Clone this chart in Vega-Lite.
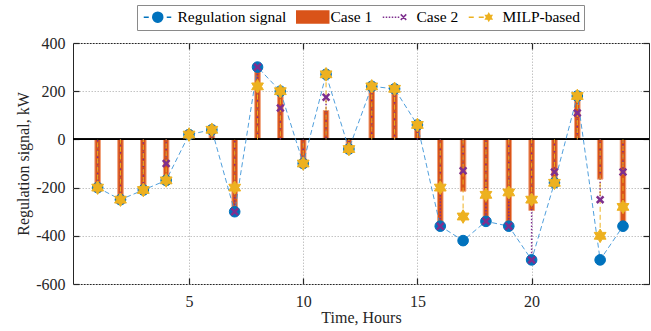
{
  "$schema": "https://vega.github.io/schema/vega-lite/v6.json",
  "width": 576,
  "height": 241,
  "autosize": {"type": "none"},
  "padding": {"left": 73, "top": 43, "right": 2, "bottom": 47},
  "background": "white",
  "config": {
    "font": "Liberation Serif",
    "view": {"stroke": "#262626", "strokeWidth": 1},
    "axis": {
      "labelFont": "Liberation Serif",
      "labelFontSize": 16,
      "labelColor": "#262626",
      "titleFont": "Liberation Serif",
      "titleFontSize": 16,
      "titleFontWeight": "normal",
      "titleColor": "#262626",
      "domain": false,
      "tickColor": "#262626",
      "tickSize": -6,
      "tickWidth": 1.2,
      "gridColor": "#c4c4c4",
      "gridDash": [1.5, 1.5],
      "gridWidth": 1
    },
    "legend": {
      "title": null,
      "orient": "none",
      "legendX": 64,
      "legendY": -38,
      "direction": "horizontal",
      "symbolSize": 100,
      "symbolStrokeWidth": 1.5,
      "symbolOpacity": 1,
      "labelFont": "Liberation Serif",
      "labelFontSize": 15.5,
      "labelColor": "#000000",
      "labelOffset": 21,
      "columnPadding": 6,
      "padding": 4,
      "strokeColor": "#8a8a8a",
      "fillColor": "#ffffff"
    }
  },
  "data": {
    "values": [
      {"h": 1, "Regulation signal": -200, "Case 1": -200, "Case 2": -200, "MILP-based": -200},
      {"h": 2, "Regulation signal": -250, "Case 1": -250, "Case 2": -250, "MILP-based": -250},
      {"h": 3, "Regulation signal": -210, "Case 1": -210, "Case 2": -210, "MILP-based": -210},
      {"h": 4, "Regulation signal": -170, "Case 1": -170, "Case 2": -100, "MILP-based": -170},
      {"h": 5, "Regulation signal": 20, "Case 1": 20, "Case 2": 20, "MILP-based": 20},
      {"h": 6, "Regulation signal": 40, "Case 1": 40, "Case 2": 40, "MILP-based": 40},
      {"h": 7, "Regulation signal": -300, "Case 1": -300, "Case 2": -300, "MILP-based": -200},
      {"h": 8, "Regulation signal": 300, "Case 1": 300, "Case 2": 300, "MILP-based": 220},
      {"h": 9, "Regulation signal": 200, "Case 1": 200, "Case 2": 130, "MILP-based": 200},
      {"h": 10, "Regulation signal": -100, "Case 1": -100, "Case 2": -100, "MILP-based": -100},
      {"h": 11, "Regulation signal": 270, "Case 1": 120, "Case 2": 175, "MILP-based": 270},
      {"h": 12, "Regulation signal": -40, "Case 1": -40, "Case 2": -40, "MILP-based": -40},
      {"h": 13, "Regulation signal": 220, "Case 1": 220, "Case 2": 220, "MILP-based": 220},
      {"h": 14, "Regulation signal": 210, "Case 1": 210, "Case 2": 210, "MILP-based": 210},
      {"h": 15, "Regulation signal": 60, "Case 1": 60, "Case 2": 60, "MILP-based": 60},
      {"h": 16, "Regulation signal": -360, "Case 1": -360, "Case 2": -360, "MILP-based": -200},
      {"h": 17, "Regulation signal": -420, "Case 1": -215, "Case 2": -130, "MILP-based": -320},
      {"h": 18, "Regulation signal": -340, "Case 1": -340, "Case 2": -340, "MILP-based": -230},
      {"h": 19, "Regulation signal": -360, "Case 1": -355, "Case 2": -360, "MILP-based": -220},
      {"h": 20, "Regulation signal": -500, "Case 1": -295, "Case 2": -500, "MILP-based": -250},
      {"h": 21, "Regulation signal": -180, "Case 1": -180, "Case 2": -135, "MILP-based": -180},
      {"h": 22, "Regulation signal": 180, "Case 1": 180, "Case 2": 110, "MILP-based": 180},
      {"h": 23, "Regulation signal": -500, "Case 1": -165, "Case 2": -250, "MILP-based": -400},
      {"h": 24, "Regulation signal": -360, "Case 1": -360, "Case 2": -135, "MILP-based": -280}
    ]
  },
  "resolve": {"axis": {"x": "independent", "y": "independent"}},
  "layer": [
    {
      "mark": {"type": "bar", "width": 5.5, "fill": "#D95319", "stroke": "#F0A07A", "strokeWidth": 1},
      "encoding": {
        "x": {
          "field": "h", "type": "quantitative",
          "scale": {"domain": [0.14, 24.92], "nice": false, "zero": false},
          "axis": {"values": [5, 10, 15, 20], "title": "Time, Hours", "grid": true, "labelPadding": 15, "titlePadding": 0}
        },
        "y": {
          "field": "Case 1", "type": "quantitative",
          "scale": {"domain": [-600, 400], "nice": false},
          "axis": {"values": [-600, -400, -200, 0, 200, 400], "title": "Regulation signal, kW", "grid": true, "labelPadding": 14, "titlePadding": 4, "labelExpr": "replace(datum.label, '−', '-')"}
        },
        "y2": {"datum": 0}
      }
    },
    {
      "mark": {"type": "rule", "color": "#000000", "strokeWidth": 1},
      "encoding": {"y": {"datum": 0, "type": "quantitative", "axis": null}}
    },
    {
      "mark": {"type": "line", "color": "#3d95d8", "strokeWidth": 1, "strokeDash": [5, 3], "opacity": 0.9},
      "encoding": {
        "x": {"field": "h", "type": "quantitative", "axis": {"orient": "top", "values": [5, 10, 15, 20], "labels": false, "title": null, "grid": false}},
        "y": {"field": "Regulation signal", "type": "quantitative", "axis": {"orient": "right", "values": [-600, -400, -200, 0, 200, 400], "labels": false, "title": null, "grid": false}}
      }
    },
    {
      "mark": {"type": "rule", "color": "#7E2F8E", "strokeWidth": 1.5, "strokeDash": [1.5, 1.8]},
      "encoding": {
        "x": {"field": "h", "type": "quantitative", "axis": null},
        "y": {"field": "Case 2", "type": "quantitative", "axis": null},
        "y2": {"datum": 0}
      }
    },
    {
      "mark": {"type": "rule", "color": "#EDB120", "strokeWidth": 1, "strokeDash": [5, 3]},
      "encoding": {
        "x": {"field": "h", "type": "quantitative", "axis": null},
        "y": {"field": "MILP-based", "type": "quantitative", "axis": null},
        "y2": {"datum": 0}
      }
    },
    {
      "mark": {"type": "point", "shape": "circle", "size": 113, "filled": true, "fill": "#0072BD", "stroke": "#0072BD", "strokeWidth": 1, "opacity": 1},
      "encoding": {
        "x": {"field": "h", "type": "quantitative", "axis": null},
        "y": {"field": "Regulation signal", "type": "quantitative", "axis": null}
      }
    },
    {
      "mark": {"type": "point", "shape": "M-1,-1L1,1M-1,1L1,-1", "size": 45, "filled": false, "stroke": "#7E2F8E", "strokeWidth": 2.5, "opacity": 1},
      "encoding": {
        "x": {"field": "h", "type": "quantitative", "axis": null},
        "y": {"field": "Case 2", "type": "quantitative", "axis": null}
      }
    },
    {
      "mark": {"type": "point", "shape": "M0,-1L0.289,-0.5L0.866,-0.5L0.577,0L0.866,0.5L0.289,0.5L0,1L-0.289,0.5L-0.866,0.5L-0.577,0L-0.866,-0.5L-0.289,-0.5Z", "size": 185, "filled": true, "fill": "#EDB120", "stroke": "#EDB120", "strokeWidth": 1, "opacity": 1},
      "encoding": {
        "x": {"field": "h", "type": "quantitative", "axis": null},
        "y": {"field": "MILP-based", "type": "quantitative", "axis": null}
      }
    },
    {
      "transform": [{"fold": ["Regulation signal", "Case 1", "Case 2", "MILP-based"], "as": ["series", "value"]}],
      "mark": {"type": "point", "filled": true, "opacity": 0},
      "encoding": {
        "x": {"field": "h", "type": "quantitative", "axis": null},
        "y": {"field": "value", "type": "quantitative", "axis": null},
        "fill": {
          "field": "series", "type": "nominal",
          "scale": {"domain": ["Regulation signal", "Case 1", "Case 2", "MILP-based"], "range": ["#0072BD", "#D95319", "#7E2F8E", "#EDB120"]},
          "legend": {"title": null}
        },
        "stroke": {
          "field": "series", "type": "nominal",
          "scale": {"domain": ["Regulation signal", "Case 1", "Case 2", "MILP-based"], "range": ["#0072BD", "#D95319", "#7E2F8E", "#EDB120"]},
          "legend": {"title": null}
        },
        "shape": {
          "field": "series", "type": "nominal",
          "scale": {"domain": ["Regulation signal", "Case 1", "Case 2", "MILP-based"], "range": [
            "M-1,0H0M3.6,0H4.5M2.8,0A1,1 0 1,1 0.8,0A1,1 0 1,1 2.8,0Z",
            "M-1,-1.2H5.4V1.2H-1Z",
            "M-1,0H-0.7M-0.4,0H-0.1M0.2,0H0.5M0.8,0H1.1M1.4,0H1.7M2,0H2.3M2.6,-0.55L3.7,0.55M2.6,0.55L3.7,-0.55",
            "M-1,0H0M1,0H2M3,-0.7L3.202,-0.35L3.606,-0.35L3.404,0L3.606,0.35L3.202,0.35L3,0.7L2.798,0.35L2.394,0.35L2.596,0L2.394,-0.35L2.798,-0.35Z"
          ]},
          "legend": {"title": null}
        }
      }
    }
  ]
}
